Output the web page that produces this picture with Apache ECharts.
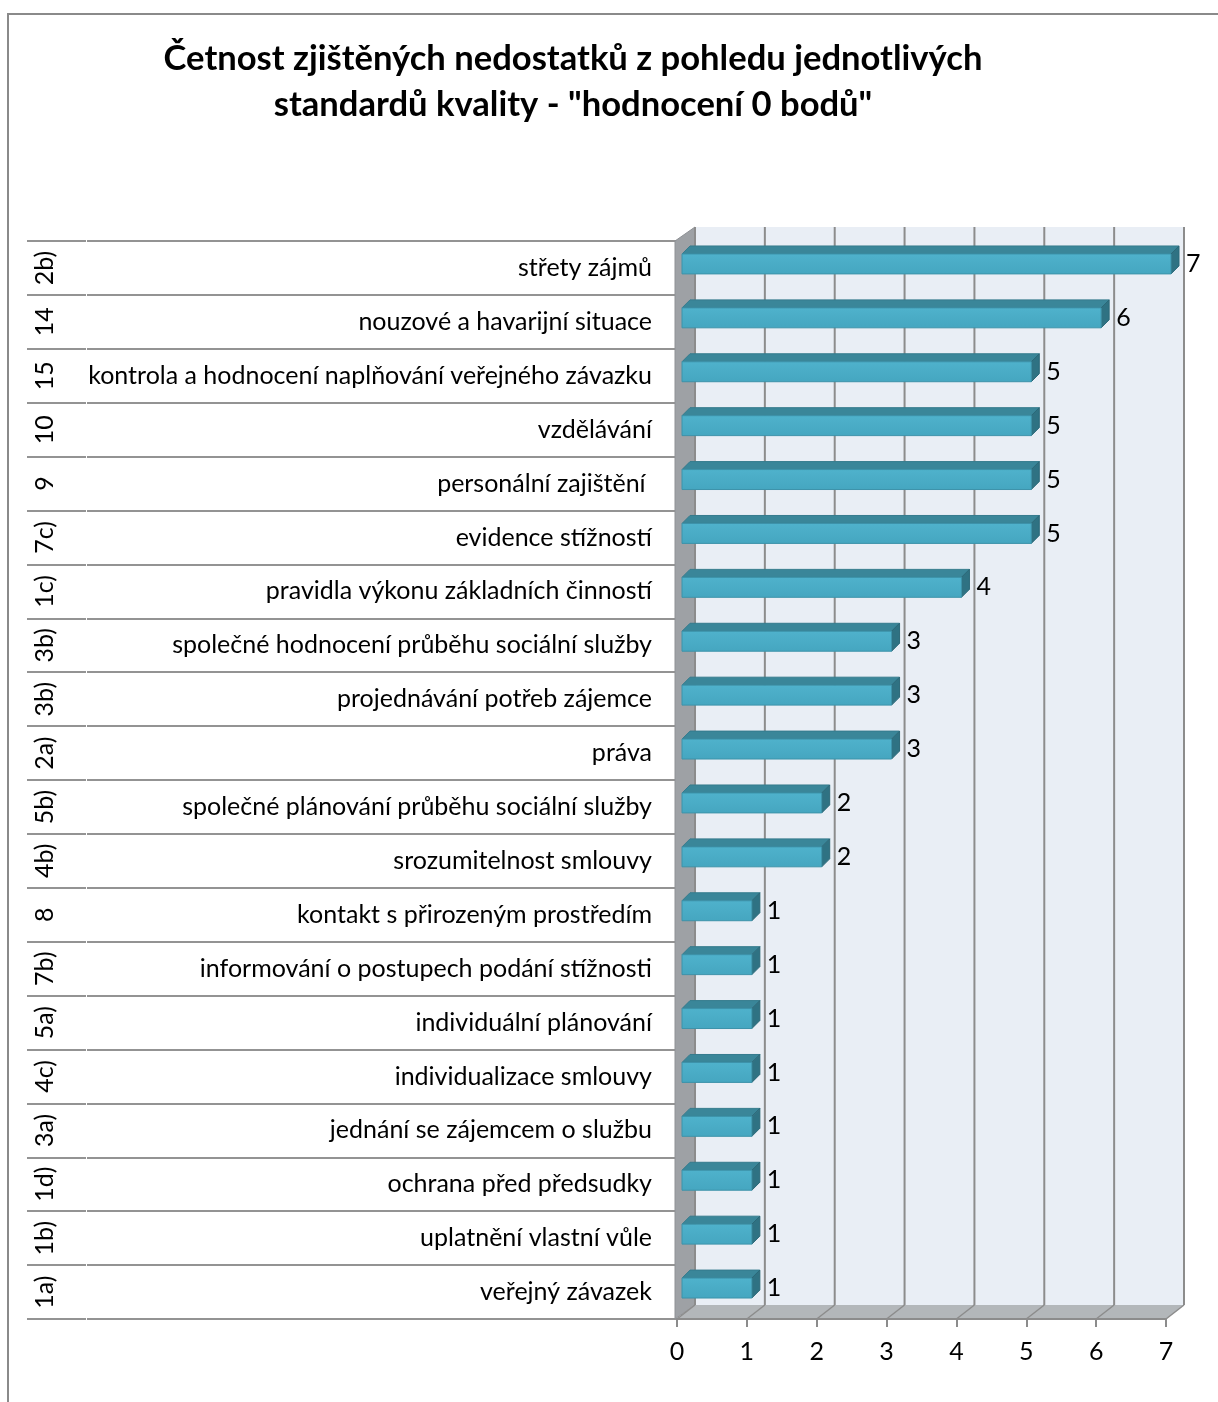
<!DOCTYPE html>
<html>
<head>
<meta charset="utf-8">
<title>Četnost zjištěných nedostatků</title>
<script src="https://cdn.jsdelivr.net/npm/echarts@6/dist/echarts.min.js"></script>
<style>
  html, body { margin: 0; padding: 0; background: #fff; }
  #chart { width: 1218px; height: 1402px; }
</style>
</head>
<body>
<div id="chart"></div>
<script>
// Standard codes (outer axis level), listed top to bottom
const standardCodes = ['2b)', '14', '15', '10', '9', '7c)', '1c)', '3b)', '3b)', '2a)',
  '5b)', '4b)', '8', '7b)', '5a)', '4c)', '3a)', '1d)', '1b)', '1a)'];

// Quality standard names (inner axis level), same order
const standardNames = [
  'střety zájmů',
  'nouzové a havarijní situace',
  'kontrola a hodnocení naplňování veřejného závazku',
  'vzdělávání',
  'personální zajištění ',
  'evidence stížností',
  'pravidla výkonu základních činností',
  'společné hodnocení průběhu sociální služby',
  'projednávání potřeb zájemce',
  'práva',
  'společné plánování průběhu sociální služby',
  'srozumitelnost smlouvy',
  'kontakt s přirozeným prostředím',
  'informování o postupech podání stížnosti',
  'individuální plánování',
  'individualizace smlouvy',
  'jednání se zájemcem o službu',
  'ochrana před předsudky',
  'uplatnění vlastní vůle',
  'veřejný závazek'
];

// Number of "0 points" findings per standard
const findingCounts = [7, 6, 5, 5, 5, 5, 4, 3, 3, 3, 2, 2, 1, 1, 1, 1, 1, 1, 1, 1];

// Value axis ticks
const xTicks = [0, 1, 2, 3, 4, 5, 6, 7];

const FONT = 'Lato, "Open Sans", sans-serif';
const WALL_DX = 18, WALL_DY = -14;   // depth of the 3D walls
const BAR_SHIFT_X = 5, BAR_SHIFT_Y = -4; // bars sit slightly behind the front plane
const BAR_DX = 8, BAR_DY = -8;       // bar depth
const GRID_COLOR = '#8c8c8c';

const chart = echarts.init(document.getElementById('chart'), null, { renderer: 'canvas' });

// Walls, floor and back grid lines of the 3D plot area
function renderFrame(params, api) {
  const n = standardNames.length;
  const band = api.size([0, 1])[1];
  const topY = api.coord([0, 0])[1] - band / 2;
  const botY = api.coord([0, n - 1])[1] + band / 2;
  const x0 = api.coord([xTicks[0], 0])[0];
  const xN = api.coord([xTicks[xTicks.length - 1], 0])[0];
  const x = api.coord([api.value(0), 0])[0];
  const children = [];
  if (params.dataIndex === 0) {
    children.push({
      type: 'polygon',
      shape: { points: [[x0 + WALL_DX, topY + WALL_DY], [xN + WALL_DX, topY + WALL_DY],
                        [xN + WALL_DX, botY + WALL_DY], [x0 + WALL_DX, botY + WALL_DY]] },
      style: { fill: '#e9eef5' }
    });
    children.push({
      type: 'polygon',
      shape: { points: [[x0 - 2, topY], [x0 + WALL_DX, topY + WALL_DY],
                        [x0 + WALL_DX, botY + WALL_DY], [x0 - 2, botY]] },
      style: { fill: '#9ea1a5', stroke: '#8e9195', lineWidth: 1 }
    });
    children.push({
      type: 'polygon',
      shape: { points: [[x0, botY], [xN, botY], [xN + WALL_DX, botY + WALL_DY], [x0 + WALL_DX, botY + WALL_DY]] },
      style: { fill: '#b3b7ba' }
    });
  }
  children.push({
    type: 'line',
    shape: { x1: x + WALL_DX, y1: topY + WALL_DY, x2: x + WALL_DX, y2: botY + WALL_DY },
    style: { stroke: GRID_COLOR, lineWidth: 2 }
  });
  children.push({
    type: 'line',
    shape: { x1: x, y1: botY, x2: x + WALL_DX, y2: botY + WALL_DY },
    style: { stroke: GRID_COLOR, lineWidth: 1.5 }
  });
  return { type: 'group', children };
}

// 3D bar: front face, top face, side face and value label
function renderBar(params, api) {
  const v = api.value(0);
  const cat = api.value(1);
  const start = api.coord([0, cat]);
  const end = api.coord([v, cat]);
  const band = api.size([0, 1])[1];
  const h = band * 0.37;
  const cy = start[1] + BAR_SHIFT_Y;
  const xa = start[0] + BAR_SHIFT_X;
  const xb = end[0] + BAR_SHIFT_X;
  const yt = cy - h / 2, yb = cy + h / 2;
  return {
    type: 'group',
    children: [
      {
        type: 'polygon',
        shape: { points: [[xa, yt], [xb, yt], [xb + BAR_DX, yt + BAR_DY], [xa + BAR_DX, yt + BAR_DY]] },
        style: { fill: '#3a8699', stroke: '#357b8d', lineWidth: 1 }
      },
      {
        type: 'polygon',
        shape: { points: [[xb, yt], [xb + BAR_DX, yt + BAR_DY], [xb + BAR_DX, yb + BAR_DY], [xb, yb]] },
        style: { fill: '#2f7283', stroke: '#2b6878', lineWidth: 1 }
      },
      {
        type: 'rect',
        shape: { x: xa, y: yt, width: xb - xa, height: h },
        style: {
          fill: new echarts.graphic.LinearGradient(0, 0, 0, 1, [
            { offset: 0, color: '#4fb2cc' },
            { offset: 1, color: '#45a6c0' }
          ]),
          stroke: '#3d93aa', lineWidth: 1
        }
      },
      {
        type: 'text',
        x: xb + BAR_DX + 7,
        y: cy,
        style: {
          text: String(v),
          fill: '#000',
          font: '25px ' + FONT,
          verticalAlign: 'middle',
          align: 'left'
        }
      }
    ]
  };
}

const option = {
  backgroundColor: '#fff',
  animation: false,
  title: {
    text: 'Četnost zjištěných nedostatků z pohledu jednotlivých\nstandardů kvality - "hodnocení 0 bodů"',
    left: 568,
    top: 31,
    textAlign: 'center',
    textStyle: {
      fontFamily: FONT,
      fontWeight: 'bold',
      fontSize: 34.6,
      lineHeight: 46,
      color: '#000'
    }
  },
  graphic: [{
    type: 'rect',
    shape: { x: 8, y: 14, width: 1300, height: 1500 },
    style: { fill: null, stroke: '#8a8a8a', lineWidth: 2 },
    silent: true,
    z: -1
  }],
  grid: { left: 677, top: 241, width: 489, height: 1078 },
  xAxis: {
    type: 'value',
    min: 0,
    max: 7,
    interval: 1,
    z: 5,
    axisLine: { show: true, lineStyle: { color: GRID_COLOR, width: 2 } },
    axisTick: { show: true, length: 8, lineStyle: { color: GRID_COLOR, width: 2 } },
    axisLabel: { fontFamily: FONT, fontSize: 25, color: '#000', margin: 20 },
    splitLine: { show: false }
  },
  yAxis: [
    {
      type: 'category',
      inverse: true,
      data: standardNames,
      axisLine: { show: false },
      axisTick: { show: true, length: 590, lineStyle: { color: '#939393', width: 2 } },
      axisLabel: { interval: 0, fontFamily: FONT, fontSize: 25, color: '#000', margin: 25 },
      splitLine: { show: false }
    },
    {
      type: 'category',
      inverse: true,
      position: 'left',
      offset: 591,
      data: standardCodes,
      axisLine: { show: false },
      axisTick: { show: true, length: 59, lineStyle: { color: '#939393', width: 2 } },
      axisLabel: {
        interval: 0, rotate: 90, margin: 41, align: 'center', verticalAlign: 'middle',
        fontFamily: FONT, fontSize: 25, color: '#000'
      },
      splitLine: { show: false }
    }
  ],
  series: [
    {
      type: 'custom',
      name: 'frame',
      z: 1,
      silent: true,
      renderItem: renderFrame,
      encode: { x: 0, y: 1 },
      data: xTicks.map(t => [t, 0])
    },
    {
      type: 'custom',
      name: 'Počet',
      z: 3,
      renderItem: renderBar,
      encode: { x: 0, y: 1 },
      data: findingCounts.map((c, i) => [c, i])
    }
  ]
};

chart.setOption(option);
</script>
</body>
</html>
